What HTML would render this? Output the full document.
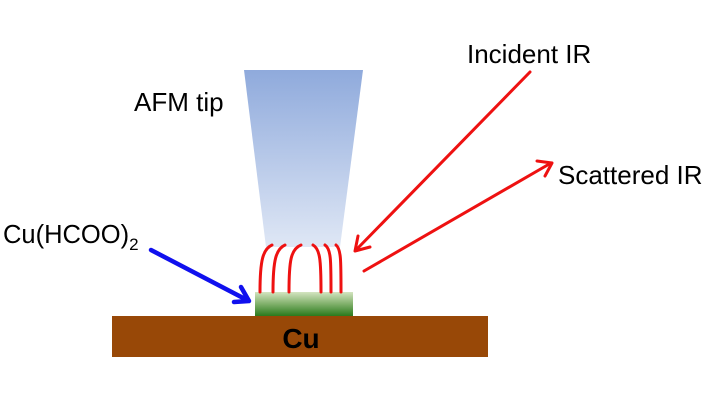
<!DOCTYPE html>
<html>
<head>
<meta charset="utf-8">
<style>
  html, body { margin: 0; padding: 0; background: #ffffff; }
  body { width: 716px; height: 400px; overflow: hidden; }
  svg { display: block; }
  text { font-family: "Liberation Sans", Arial, sans-serif; fill: #000; }
</style>
</head>
<body>
<svg width="716" height="400" viewBox="0 0 716 400" xmlns="http://www.w3.org/2000/svg">
  <defs>
    <linearGradient id="tipg" x1="0" y1="0" x2="0" y2="1">
      <stop offset="0" stop-color="#8faadc"/>
      <stop offset="1" stop-color="#dfe7f5"/>
    </linearGradient>
    <linearGradient id="greeng" x1="0" y1="0" x2="0" y2="1">
      <stop offset="0" stop-color="#d3e4c0"/>
      <stop offset="0.5" stop-color="#7fb06a"/>
      <stop offset="1" stop-color="#2a7a1c"/>
    </linearGradient>
  </defs>

  <!-- AFM tip -->
  <polygon points="244,70 363,70 340,247 266,247" fill="url(#tipg)"/>

  <!-- Cu slab -->
  <rect x="112" y="316" width="376" height="41" fill="#984807"/>
  <text x="301" y="348" font-size="28" font-weight="bold" text-anchor="middle">Cu</text>

  <!-- Cu(HCOO)2 film -->
  <rect x="255" y="292" width="98" height="24" fill="url(#greeng)"/>

  <!-- Field lines -->
  <g fill="none" stroke="#ee1111" stroke-width="3" stroke-linecap="round">
    <path d="M272 245 C263 249, 260 260, 260 292"/>
    <path d="M285 245 C276 249, 273 260, 273 292"/>
    <path d="M301 245 C291 249, 289 260, 289 292"/>
    <path d="M313 245 C320 249, 321 260, 321 292"/>
    <path d="M325 245 C331 249, 331 260, 331 292"/>
    <path d="M336 245 C341 249, 341 260, 341 292"/>
  </g>

  <!-- Incident IR arrow -->
  <g fill="none" stroke="#ee1111" stroke-width="3" stroke-linecap="round" stroke-linejoin="round">
    <line x1="530" y1="72" x2="356" y2="250"/>
    <polyline points="358,236 355,251 370,247"/>
    <!-- Scattered IR arrow -->
    <line x1="364" y1="271" x2="551" y2="163"/>
    <polyline points="537,161 552,163 545,176"/>
  </g>

  <!-- Blue arrow -->
  <g fill="none" stroke="#1010ee" stroke-width="4.5" stroke-linecap="round" stroke-linejoin="round">
    <line x1="151" y1="250" x2="247" y2="300"/>
    <polyline points="241,287 249,301 234,302"/>
  </g>

  <!-- Labels -->
  <text x="134" y="111" font-size="26">AFM tip</text>
  <text x="467" y="63" font-size="26">Incident IR</text>
  <text x="558" y="184" font-size="26">Scattered IR</text>
  <text x="3" y="243" font-size="25.5">Cu(HCOO)<tspan font-size="17" dy="7">2</tspan></text>
</svg>
</body>
</html>
